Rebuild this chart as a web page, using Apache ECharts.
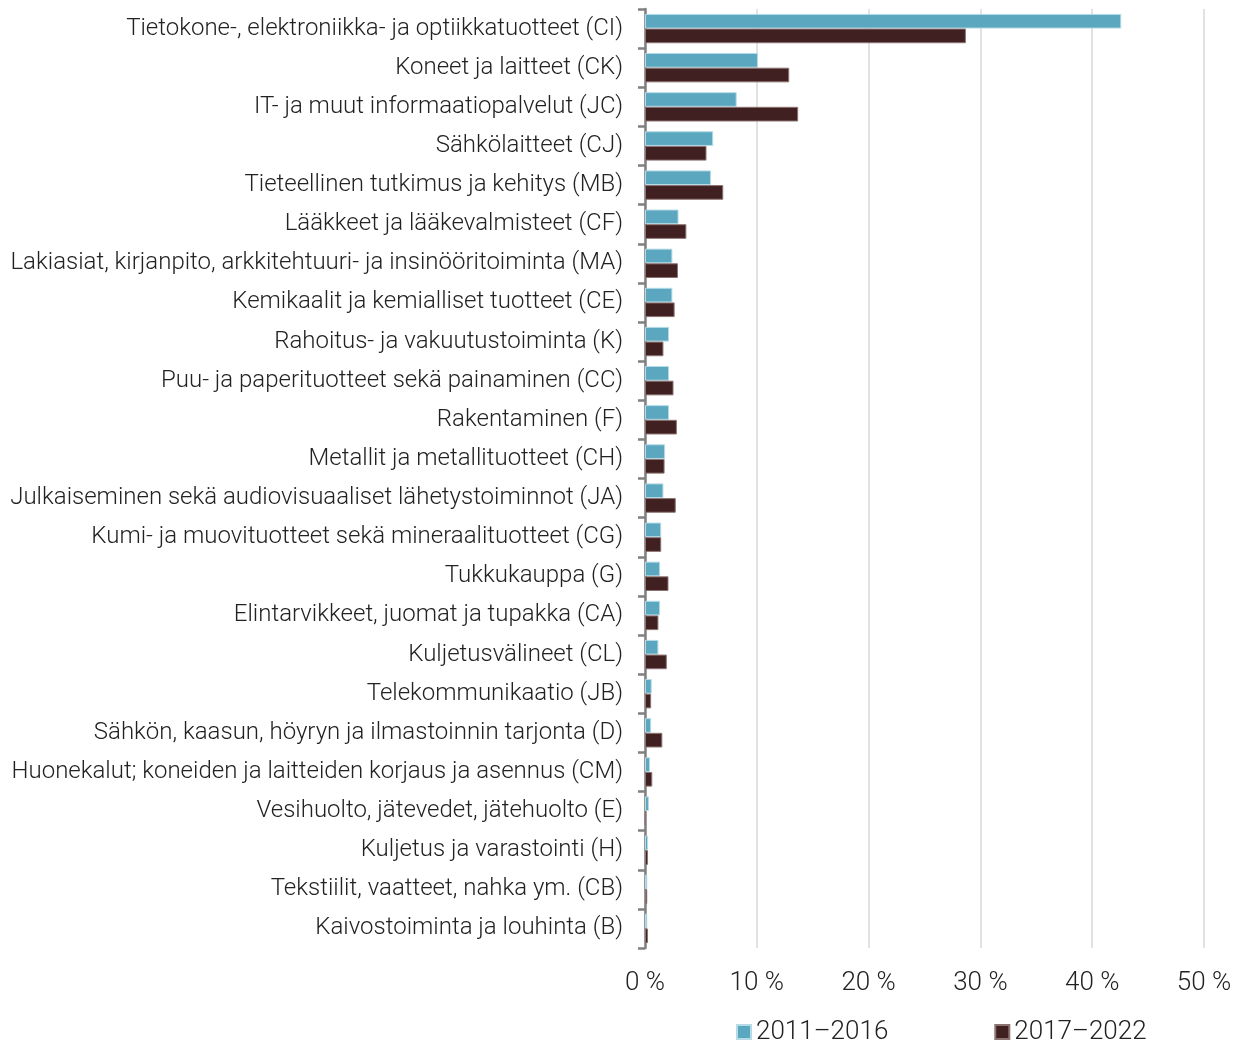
<!DOCTYPE html>
<html>
<head>
<meta charset="utf-8">
<script src="https://cdn.jsdelivr.net/npm/echarts@6/dist/echarts.min.js"></script>
<style>
	html, body { margin: 0; padding: 0; background: #fff; }
	#chart { width: 1242px; height: 1042px; }
</style>
</head>
<body>
<div id="chart"></div>
<script>
var categories = [
	'Tietokone-, elektroniikka- ja optiikkatuotteet (CI)',
	'Koneet ja laitteet (CK)',
	'IT- ja muut informaatiopalvelut (JC)',
	'Sähkölaitteet (CJ)',
	'Tieteellinen tutkimus ja kehitys (MB)',
	'Lääkkeet ja lääkevalmisteet (CF)',
	'Lakiasiat, kirjanpito, arkkitehtuuri- ja insinööritoiminta (MA)',
	'Kemikaalit ja kemialliset tuotteet (CE)',
	'Rahoitus- ja vakuutustoiminta (K)',
	'Puu- ja paperituotteet sekä painaminen (CC)',
	'Rakentaminen (F)',
	'Metallit ja metallituotteet (CH)',
	'Julkaiseminen sekä audiovisuaaliset lähetystoiminnot (JA)',
	'Kumi- ja muovituotteet sekä mineraalituotteet (CG)',
	'Tukkukauppa (G)',
	'Elintarvikkeet, juomat ja tupakka (CA)',
	'Kuljetusvälineet (CL)',
	'Telekommunikaatio (JB)',
	'Sähkön, kaasun, höyryn ja ilmastoinnin tarjonta (D)',
	'Huonekalut; koneiden ja laitteiden korjaus ja asennus (CM)',
	'Vesihuolto, jätevedet, jätehuolto (E)',
	'Kuljetus ja varastointi (H)',
	'Tekstiilit, vaatteet, nahka ym. (CB)',
	'Kaivostoiminta ja louhinta (B)'
];
var series2011 = [42.6, 10.1, 8.2, 6.1, 5.9, 3.0, 2.45, 2.45, 2.15, 2.15, 2.15, 1.8, 1.65, 1.45, 1.35, 1.35, 1.2, 0.6, 0.55, 0.45, 0.35, 0.27, 0.2, 0.2];
var series2017 = [28.7, 12.9, 13.7, 5.5, 7.0, 3.7, 2.95, 2.65, 1.65, 2.55, 2.85, 1.75, 2.75, 1.45, 2.1, 1.2, 1.95, 0.55, 1.55, 0.65, 0.05, 0.27, 0.2, 0.27];
var seriesNames = ['2011\u20132016', '2017\u20132022'];

var myChart = echarts.init(document.getElementById('chart'));
var option = {
	animation: false,
	textStyle: { fontFamily: 'Roboto', fontWeight: 300 },
	grid: { left: 645, right: 38, top: 9, bottom: 94, containLabel: false },
	legend: {
		data: seriesNames,
		left: 731,
		top: 1014,
		itemWidth: 14,
		itemHeight: 14,
		itemGap: 106,
		icon: 'rect',
		textStyle: { fontSize: 26, color: '#222', fontWeight: 300, padding: [0, 0, 0, 0] }
	},
	xAxis: {
		type: 'value',
		min: 0,
		max: 50,
		interval: 10,
		axisLine: { show: false },
		axisTick: { show: false },
		axisLabel: { formatter: '{value} %', fontSize: 26, color: '#222', margin: 22 },
		splitLine: { lineStyle: { color: '#d9d9d9', width: 1.5 } }
	},
	yAxis: {
		type: 'category',
		inverse: true,
		data: categories,
		axisLine: { lineStyle: { color: '#808080', width: 2.5 } },
		axisTick: { show: true, length: 7, lineStyle: { color: '#808080', width: 2.5 } },
		axisLabel: { fontSize: 24, color: '#222', margin: 22 }
	},
	series: [
		{
			name: seriesNames[0],
			type: 'bar',
			barGap: '0%',
			barCategoryGap: '25%',
			itemStyle: { color: '#5ba7c0', borderColor: '#b5dbe6', borderWidth: 1 },
			data: series2011
		},
		{
			name: seriesNames[1],
			type: 'bar',
			barGap: '0%',
			barCategoryGap: '25%',
			itemStyle: { color: '#402020', borderColor: '#8c7373', borderWidth: 1 },
			data: series2017
		}
	]
};
myChart.setOption(option);
</script>
</body>
</html>
